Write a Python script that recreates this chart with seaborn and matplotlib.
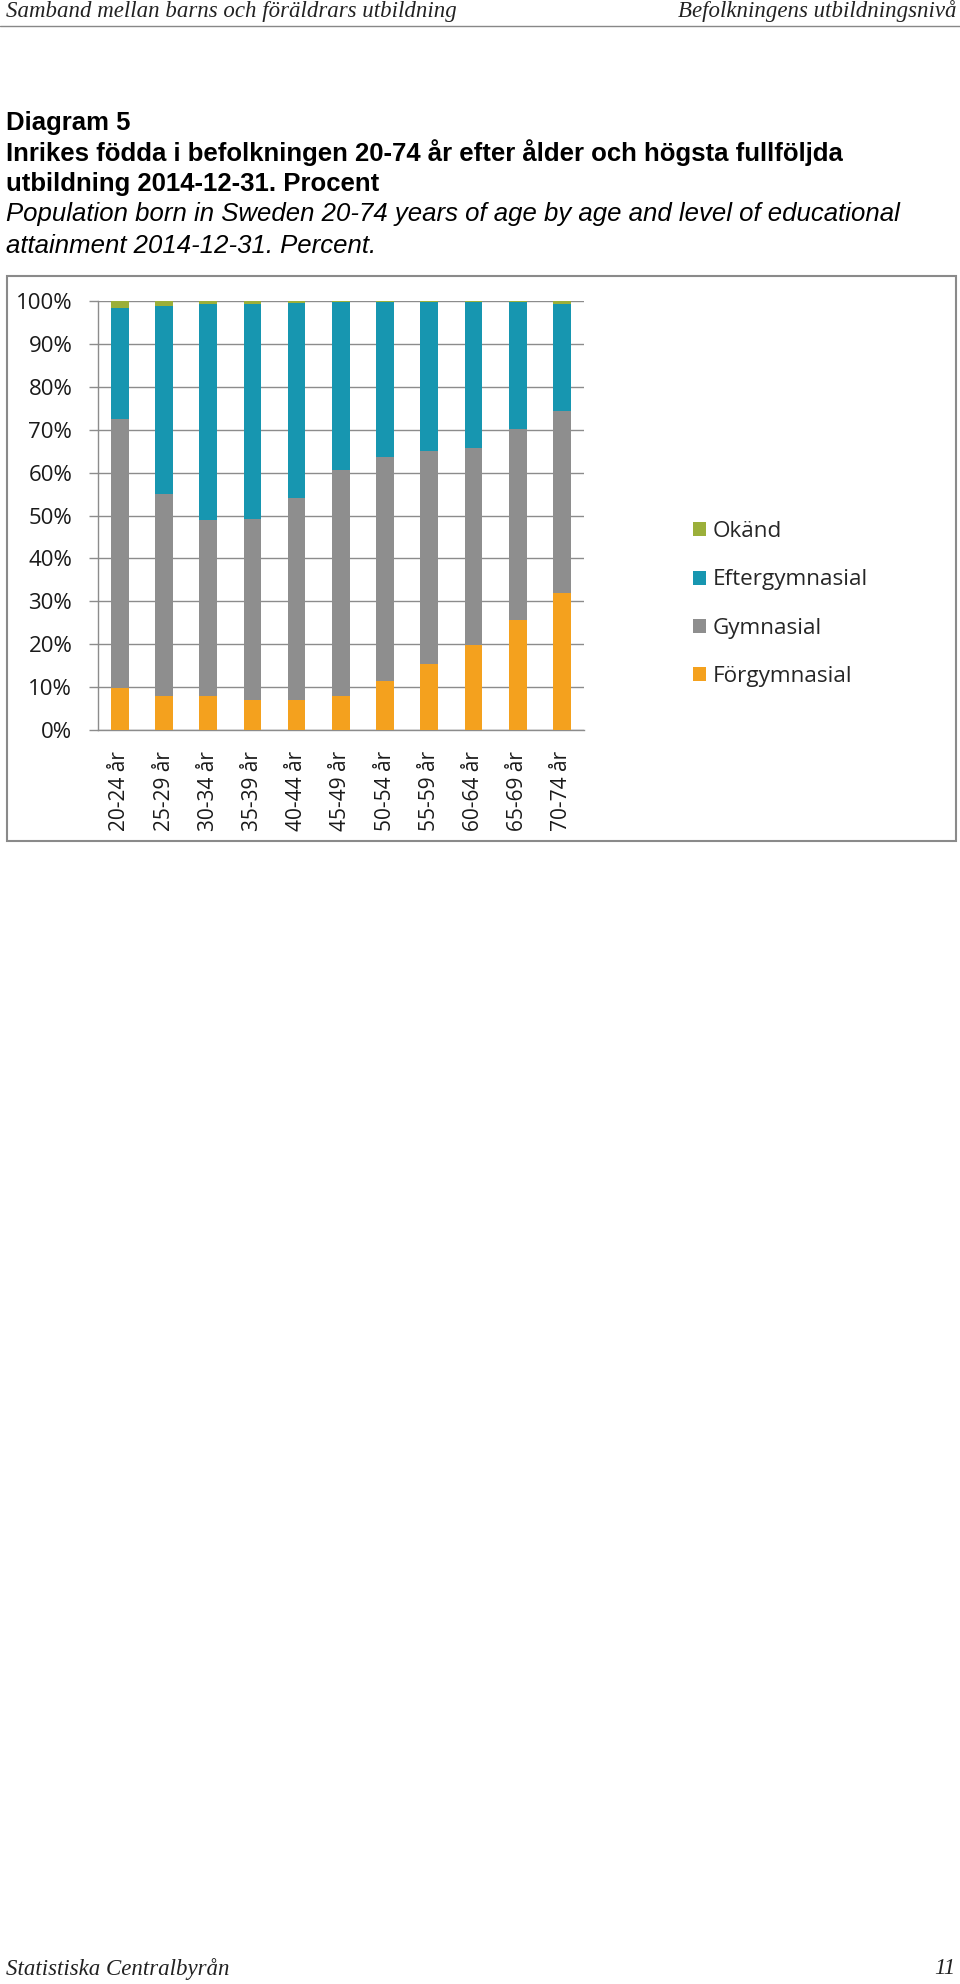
import matplotlib
matplotlib.use("Agg")
import matplotlib.pyplot as plt
import seaborn as sns
import pandas as pd
import numpy as np
from matplotlib.patches import Rectangle, Patch
from matplotlib.lines import Line2D

# ---- data (percent) ----
age_groups = ["20-24 år", "25-29 år", "30-34 år", "35-39 år", "40-44 år", "45-49 år",
              "50-54 år", "55-59 år", "60-64 år", "65-69 år", "70-74 år"]
forgymnasial = [9.8, 7.9, 7.9, 6.9, 6.9, 7.9, 11.4, 15.3, 19.9, 25.7, 31.9]
gymnasial = [62.6, 47.2, 41.0, 42.4, 47.2, 52.6, 52.2, 49.7, 45.9, 44.4, 42.5]
eftergymnasial = [26.0, 43.7, 50.4, 50.0, 45.5, 39.2, 36.1, 34.7, 33.9, 29.6, 25.0]
okand = [1.6, 1.2, 0.7, 0.7, 0.4, 0.3, 0.3, 0.3, 0.3, 0.3, 0.6]
y_ticks = [0, 10, 20, 30, 40, 50, 60, 70, 80, 90, 100]
series_names = ["Okänd", "Eftergymnasial", "Gymnasial", "Förgymnasial"]
series_colors = ["#9BAF3A", "#1796B0", "#8E8E8E", "#F4A11E"]

df = pd.DataFrame({"age": age_groups, "F": forgymnasial, "G": gymnasial,
                   "E": eftergymnasial, "O": okand})
df["cum_F"] = df["F"]
df["cum_G"] = df["cum_F"] + df["G"]
df["cum_E"] = df["cum_G"] + df["E"]
df["cum_O"] = df["cum_E"] + df["O"]

sns.set_theme(style="white")
plt.rcParams["font.family"] = ["Open Sans", "DejaVu Sans"]

W, H = 960, 1984
fig = plt.figure(figsize=(W / 100, H / 100), dpi=100)

def fx(x):
    return x / W

def fy(y):
    return 1 - y / H

# axes in pixel coords
L, R, T, B = 97.7, 584.0, 301.0, 730.0
ax = fig.add_axes([fx(L), fy(B), (R - L) / W, (B - T) / H])

grid_c = "#8C8C8C"
for col, colr in zip(["cum_O", "cum_E", "cum_G", "cum_F"], series_colors):
    sns.barplot(data=df, x="age", y=col, color=colr, width=0.4, ax=ax,
                saturation=1, linewidth=0, zorder=3)

ax.set_ylim(0, 100)
ax.set_xlim(-0.5, len(age_groups) - 0.5)
ax.set_yticks(y_ticks)
ax.set_yticklabels([f"{v}%" for v in y_ticks])
ax.set_xlabel("")
ax.set_ylabel("")
ax.yaxis.grid(True, color=grid_c, linewidth=1.0, zorder=0)
ax.set_axisbelow(True)
ax.tick_params(axis="y", length=6.3, width=1.0, color=grid_c, pad=12,
               labelsize=16, labelcolor="#1a1a1a", left=True, direction="out")
ax.set_xticks(range(len(age_groups)))
ax.set_xticklabels(age_groups, rotation=90, fontsize=15, color="#1a1a1a")
ax.tick_params(axis="x", length=0, pad=15)
ax.set_xticks(np.arange(-0.5, len(age_groups), 1.0), minor=True)
ax.tick_params(axis="x", which="minor", length=5, width=1.0, color=grid_c, direction="out")
for s in ["top", "right"]:
    ax.spines[s].set_visible(False)
for s in ["left", "bottom"]:
    ax.spines[s].set_color(grid_c)
    ax.spines[s].set_linewidth(1.0)

# legend
handles = [Patch(facecolor=c, edgecolor="none") for c in series_colors]
fig.legend(handles, series_names, loc="upper left",
           bbox_to_anchor=(fx(693), fy(521)), frameon=False, fontsize=16.2,
           handlelength=0.58, handleheight=0.58, handletextpad=0.3,
           labelspacing=1.22, borderpad=0, borderaxespad=0)

# chart frame
fig.patches.append(Rectangle((fx(7), fy(840.7)), fx(955.7) - fx(7), fy(275.7) - fy(840.7),
                             transform=fig.transFigure, fill=False,
                             edgecolor="#8A8A8A", linewidth=1.5))

# page header
serif = ["Liberation Serif", "DejaVu Serif"]
hfs = 16.5
fig.text(fx(6), fy(11), "Samband mellan barns och föräldrars utbildning", family=serif,
         style="italic", fontsize=hfs, va="center", ha="left", color="#222222")
fig.text(fx(956), fy(11), "Befolkningens utbildningsnivå", family=serif,
         style="italic", fontsize=hfs, va="center", ha="right", color="#222222")
fig.add_artist(Line2D([0, 1], [fy(25.5), fy(25.5)], transform=fig.transFigure,
                      color="#888888", linewidth=1.0))

# titles
sans = ["Liberation Sans", "DejaVu Sans"]
tfs = 18.5
fig.text(fx(6), fy(123), "Diagram 5", family=sans, fontweight="bold", fontsize=tfs,
         va="center", ha="left", color="black")
fig.text(fx(6), fy(153), "Inrikes födda i befolkningen 20-74 år efter ålder och högsta fullföljda",
         family=sans, fontweight="bold", fontsize=tfs, va="center", ha="left", color="black")
fig.text(fx(6), fy(184), "utbildning 2014-12-31. Procent", family=sans, fontweight="bold",
         fontsize=tfs, va="center", ha="left", color="black")
fig.text(fx(6), fy(214), "Population born in Sweden 20-74 years of age by age and level of educational",
         family=sans, style="italic", fontsize=tfs, va="center", ha="left", color="black")
fig.text(fx(6), fy(246), "attainment 2014-12-31. Percent.", family=sans, style="italic",
         fontsize=tfs, va="center", ha="left", color="black")

# footer
fig.text(fx(6), fy(1969), "Statistiska Centralbyrån", family=serif, style="italic",
         fontsize=hfs, va="center", ha="left", color="#222222")
fig.text(fx(955), fy(1969), "11", family=serif, style="italic",
         fontsize=hfs, va="center", ha="right", color="#222222")

fig.savefig("out.png", dpi=100, facecolor="white")
